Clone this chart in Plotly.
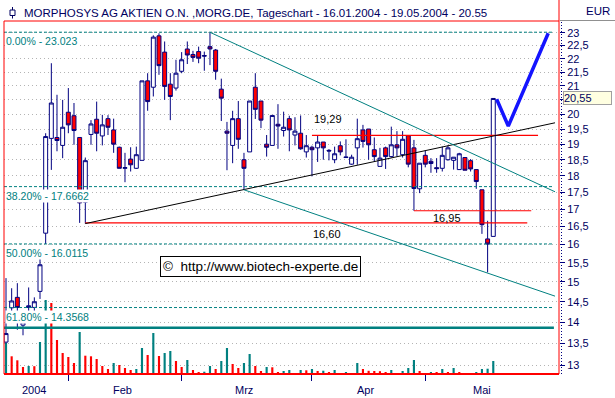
import math
import plotly.graph_objects as go

# ---------------- data ----------------
title_text = "MORPHOSYS AG AKTIEN O.N. ,MORG.DE, Tageschart - 16.01.2004 - 19.05.2004 - 20.55"
currency = "EUR"
last_price = 20.55
last_price_text = "20,55"

open_ = [13.53, 14.35, 14.61, 13.93, 14.36, 14.36, 14.76, 16.31, 19.19, 19.22,
         18.96, 20.07, 19.95, 19.22, 17.20, 19.32, 19.83, 19.27, 19.85, 19.47,
         18.90, 18.23, 18.52, 18.23, 18.48, 21.18, 20.95, 22.88, 22.25, 21.06,
         20.92, 21.53, 22.37, 22.16, 22.27, 22.12, 22.46, 22.33, 20.88, 19.43,
         18.96, 19.85, 18.50, 18.75, 20.95, 20.46, 19.00, 18.96, 19.66, 19.45,
         19.85, 19.30, 19.36, 18.75, 18.90, 18.88, 19.07, 18.80, 18.50, 18.95,
         18.59, 18.36, 18.88, 19.47, 19.50, 18.82, 18.29, 18.88, 18.60, 18.98,
         18.66, 19.28, 18.88, 17.60, 18.64, 18.45, 18.25, 18.23, 18.50, 18.48,
         18.19, 18.57, 18.47, 18.19, 17.57, 16.15, 16.22]
high = [15.10, 14.84, 14.97, 14.25, 14.86, 14.61, 15.63, 19.36, 21.83, 20.68,
        20.50, 20.92, 20.39, 19.22, 18.57, 19.80, 20.44, 19.98, 19.97, 19.85,
        18.92, 18.72, 18.90, 18.92, 21.18, 21.46, 22.90, 22.98, 22.66, 21.46,
        21.96, 22.25, 22.66, 22.30, 22.46, 22.27, 23.02, 22.37, 21.26, 19.74,
        20.12, 20.46, 18.72, 20.46, 21.46, 20.46, 19.30, 19.96, 20.35, 20.09,
        19.95, 19.90, 19.96, 19.30, 18.95, 19.30, 19.07, 18.84, 18.92, 19.09,
        19.16, 18.66, 19.85, 19.64, 19.50, 19.22, 18.88, 18.92, 19.58, 19.43,
        19.43, 19.28, 19.14, 18.39, 18.79, 18.55, 18.55, 18.92, 18.96, 18.58,
        18.72, 18.57, 18.52, 18.19, 17.57, 16.66, 20.55]
low = [13.50, 13.98, 13.82, 13.69, 13.98, 13.98, 14.57, 16.01, 18.18, 18.77,
       18.55, 19.36, 18.98, 16.60, 16.58, 18.98, 18.77, 18.96, 19.30, 18.72,
       18.23, 17.80, 18.13, 18.21, 18.48, 20.12, 20.62, 21.40, 20.50, 19.80,
       20.83, 21.46, 21.80, 21.88, 21.83, 21.55, 21.76, 21.22, 19.77, 18.17,
       18.39, 18.85, 17.57, 18.75, 19.84, 19.53, 18.60, 18.96, 18.85, 19.25,
       18.77, 18.96, 18.82, 18.57, 17.98, 18.43, 18.50, 18.48, 18.39, 18.64,
       18.56, 18.34, 18.34, 18.89, 18.50, 18.45, 18.29, 18.21, 18.57, 18.60,
       18.57, 18.26, 16.95, 17.47, 18.26, 18.09, 18.09, 18.13, 18.47, 18.19,
       18.19, 18.17, 18.13, 17.60, 16.29, 15.25, 16.22]
close = [13.73, 14.52, 14.36, 14.01, 14.40, 14.50, 15.45, 19.25, 20.39, 19.12,
         19.56, 19.64, 19.45, 17.18, 18.47, 19.67, 19.36, 19.64, 19.56, 19.00,
         18.23, 18.25, 18.34, 18.66, 21.18, 20.44, 22.83, 21.74, 20.98, 20.62,
         21.46, 21.96, 22.14, 22.05, 22.02, 22.10, 22.37, 21.53, 20.56, 19.36,
         19.85, 19.16, 18.23, 20.46, 20.17, 19.80, 18.90, 19.96, 19.60, 19.56,
         19.47, 19.43, 18.85, 18.95, 18.82, 19.07, 18.88, 18.78, 18.69, 18.75,
         18.57, 18.58, 19.18, 19.09, 18.98, 18.60, 18.55, 18.60, 18.98, 18.88,
         19.16, 18.36, 17.61, 18.39, 18.36, 18.38, 18.22, 18.64, 18.88, 18.58,
         18.69, 18.17, 18.21, 17.82, 16.55, 16.01, 20.55]
# volume in thousand shares (estimated)
volume = [310, 177, 137, 70, 80, 78, 320, 740, 710, 340,
          210, 170, 110, 420, 183, 177, 150, 80, 50, 110,
          90, 60, 40, 50, 260, 190, 410, 180, 210, 230,
          130, 70, 140, 40, 20, 23, 80, 50, 130, 260,
          100, 60, 110, 200, 80, 30, 70, 67, 20, 30,
          40, 10, 40, 37, 50, 30, 33, 20, 40, 10,
          20, 10, 110, 50, 32, 30, 28, 20, 40, 10,
          30, 60, 140, 30, 10, 13, 11, 50, 20, 60,
          20, 10, 5, 12, 50, 53, 130]

month_labels = ["2004", "Feb", "Mrz", "Apr", "Mai"]
month_starts = [0, 11, 31, 54, 74]
month_ends = [11, 31, 54, 74, 95]

price_ticks = [13, 13.5, 14, 14.5, 15, 15.5, 16, 16.5, 17, 17.5, 18, 18.5,
               19, 19.5, 20, 20.5, 21, 21.5, 22, 22.5, 23]
price_tick_text = ["13", "13,5", "14", "14,5", "15", "15,5", "16", "16,5", "17", "17,5",
                   "18", "18,5", "19", "19,5", "20", "", "21", "21,5", "22", "22,5", "23"]

fib_levels = [23.023, 17.6662, 16.0115, 14.3568]
fib_labels = ["0.00% - 23.023", "38.20% - 17.6662", "50.00% - 16.0115", "61.80% - 14.3568"]
base_level = 13.87

support_levels = [19.29, 16.95, 16.60]
support_start = [54, 72, 14]
support_end = [93.9, 92.7, 92.0]
support_text = ["19,29", "16,95", "16,60"]
support_text_x = [56.8, 77.8, 56.7]
support_text_shift = [16, -7, -11]

trend_x = [14, 96.9]
trend_y = [16.58, 19.71]
channel_upper_x = [36, 96.9]
channel_upper_y = [23.02, 17.51]
channel_lower_x = [42, 96.9]
channel_lower_y = [17.57, 14.64]
forecast_x = [86.6, 88.65, 95.7]
forecast_y = [20.52, 19.60, 22.98]

watermark = "©  http://www.biotech-experte.de"

# ---------------- styling ----------------
NAVY = "#000080"
TXT = "#000060"
TEAL = "#008080"
RED = "#ff0000"
FONT = "Liberation Sans, Arial, sans-serif"

W, H = 615, 398
ML, MR, MT, MB = 4, 56, 21, 24
PW, PH = W - ML - MR, H - MT - MB
X_LO, X_HI = -0.353, 97.6
X_LINE_END = 96.7
P_LO, P_HI = 12.81, 23.47
VOL_MAX = 3530


def px(xp):
    return (xp - ML) / PW


def py(yp):
    return (H - MB - yp) / PH


idx = list(range(len(close)))
vol_colors = [TEAL] + [TEAL if volume[i] > volume[i - 1] else RED for i in range(1, len(volume))]

fig = go.Figure()

fig.add_trace(go.Bar(x=idx, y=volume, width=0.38, marker=dict(color=vol_colors, line=dict(width=0)),
                     yaxis="y", showlegend=False, hoverinfo="skip"))

fig.add_trace(go.Candlestick(
    x=idx, open=open_, high=high, low=low, close=close, yaxis="y2",
    increasing=dict(line=dict(color=NAVY, width=1), fillcolor="white"),
    decreasing=dict(line=dict(color=NAVY, width=1), fillcolor=RED),
    whiskerwidth=0, showlegend=False))


def line(xs, ys, color, width, dash="solid"):
    fig.add_trace(go.Scatter(x=xs, y=ys, mode="lines", yaxis="y2",
                             line=dict(color=color, width=width, dash=dash),
                             showlegend=False, hoverinfo="skip"))


for lv in fib_levels:
    line([X_LO, X_LINE_END], [lv, lv], TEAL, 1, "3px,2px")
line([X_LO, X_LINE_END], [base_level, base_level], TEAL, 2.5)
for lv, s, e in zip(support_levels, support_start, support_end):
    line([s, e], [lv, lv], RED, 1.2)
line(trend_x, trend_y, "black", 1)
line(channel_upper_x, channel_upper_y, TEAL, 1)
line(channel_lower_x, channel_lower_y, TEAL, 1)
line(forecast_x, forecast_y, "#1414ff", 3.5)

ann = []
ann.append(dict(text=title_text, x=px(22), y=py(13), xref="paper", yref="paper",
                xanchor="left", yanchor="middle", showarrow=False,
                font=dict(family=FONT, size=11.5, color=TXT)))
ann.append(dict(text=currency, x=px(598), y=py(11), xref="paper", yref="paper",
                xanchor="center", yanchor="middle", showarrow=False,
                font=dict(family=FONT, size=11.5, color=TXT)))
ann.append(dict(text=last_price_text, x=px(563), y=math.log10(last_price), xref="paper", yref="y2",
                xanchor="left", yanchor="middle", showarrow=False, align="left", width=47,
                bgcolor="#ffffe1", bordercolor="#a0a0a0", borderwidth=1, borderpad=0,
                font=dict(family=FONT, size=11, color=TXT)))
for lv, lab in zip(fib_levels, fib_labels):
    ann.append(dict(text=lab, x=px(5), y=math.log10(lv), xref="paper", yref="y2",
                    xanchor="left", yanchor="middle", yshift=-9, showarrow=False,
                    bgcolor="white", borderpad=0,
                    font=dict(family=FONT, size=10.5, color=TEAL)))
for lv, t, tx, sh in zip(support_levels, support_text, support_text_x, support_text_shift):
    ann.append(dict(text=t, x=tx, y=math.log10(lv), xref="x", yref="y2",
                    xanchor="center", yanchor="middle", yshift=sh, showarrow=False,
                    font=dict(family=FONT, size=11, color="black")))
ann.append(dict(text=watermark, x=px(260), y=py(266), xref="paper", yref="paper",
                xanchor="center", yanchor="middle", showarrow=False,
                bgcolor="white", bordercolor="black", borderwidth=1, borderpad=2,
                font=dict(family=FONT, size=13.5, color="black")))
for lab, s, e in zip(month_labels, month_starts, month_ends):
    ann.append(dict(text=lab, x=(s + e - 1) / 2, y=0, xref="x", yref="paper",
                    xanchor="center", yanchor="middle", yshift=-16, showarrow=False,
                    font=dict(family=FONT, size=11, color=TXT)))

shapes = [
    dict(type="line", xref="paper", yref="paper", x0=0, x1=0, y0=0, y1=1, line=dict(color=RED, width=1)),
    dict(type="line", xref="paper", yref="paper", x0=1, x1=1, y0=0, y1=py(0), line=dict(color=RED, width=1)),
    dict(type="line", xref="paper", yref="paper", x0=0, x1=1, y0=1, y1=1, line=dict(color=RED, width=1)),
    dict(type="line", xref="paper", yref="paper", x0=0, x1=1, y0=0, y1=0, line=dict(color=RED, width=2)),
    dict(type="line", xref="paper", yref="paper", x0=px(561.5), x1=px(561.5), y0=0, y1=py(21),
         line=dict(color=NAVY, width=1, dash="1px,2px")),
    dict(type="line", xref="paper", yref="paper", x0=px(560), x1=px(615), y0=py(20.5), y1=py(20.5),
         line=dict(color="#909090", width=1)),
    dict(type="line", xref="paper", yref="paper", x0=px(12.5), x1=px(12.5), y0=py(18.5), y1=py(7),
         line=dict(color=TXT, width=1)),
    dict(type="rect", xref="paper", yref="paper", x0=px(10), x1=px(15), y0=py(15.5), y1=py(10),
         line=dict(color=TXT, width=1), fillcolor="white"),
]

fig.update_layout(
    width=W, height=H,
    margin=dict(l=ML, r=MR, t=MT, b=MB, pad=0),
    paper_bgcolor="white", plot_bgcolor="white",
    showlegend=False, boxgap=0.3, boxgroupgap=0,
    xaxis=dict(range=[X_LO, X_HI], tickvals=month_starts[1:], ticks="outside", ticklen=6,
               tickcolor=NAVY, showticklabels=False, showgrid=False, zeroline=False,
               showline=False, rangeslider=dict(visible=False), fixedrange=True),
    yaxis=dict(range=[0, VOL_MAX], visible=False, fixedrange=True),
    yaxis2=dict(overlaying="y", side="right", type="log",
                range=[math.log10(P_LO), math.log10(P_HI)],
                tickvals=price_ticks, ticktext=price_tick_text, ticks="outside", ticklen=5,
                tickcolor=NAVY, tickfont=dict(family=FONT, size=11, color=TXT),
                showgrid=True, gridcolor="#b4b4b4", griddash="1px,3px", gridwidth=1,
                zeroline=False, showline=False, fixedrange=True),
    annotations=ann, shapes=shapes,
)

fig.write_html("out.html", config={"displayModeBar": False},
               post_script="document.body.style.margin='0px';document.body.style.padding='0px';")
